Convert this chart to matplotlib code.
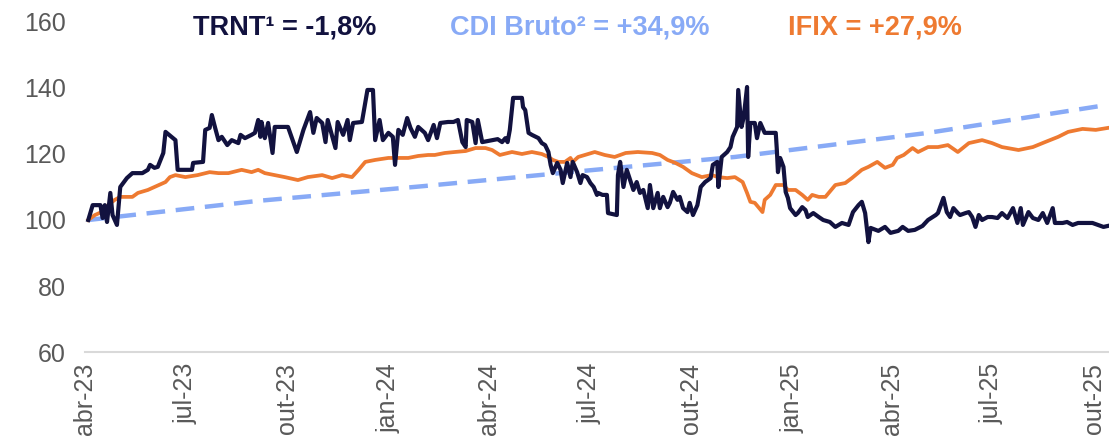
import matplotlib.pyplot as plt
import pandas as pd

plt.rcParams['font.family'] = ['Liberation Sans', 'DejaVu Sans']

START = pd.Timestamp("2023-04-01")

# days elapsed since 2023-04-01, values in base 100
trnt_days = [3, 7, 14, 16, 18, 20, 23, 25, 29, 32, 38, 43, 52, 57, 59, 63, 66, 71, 73, 82,
             84, 97, 98, 107, 109, 113, 115, 118, 121, 124, 129, 133, 139, 141, 145, 151, 154, 157, 159, 160,
             163, 166, 170, 172, 184, 192, 198, 204, 207, 210, 215, 218, 220, 227, 229, 234, 238, 240, 243, 251,
             256, 261, 263, 267, 270, 275, 279, 281, 284, 288, 292, 295, 299, 302, 308, 311, 316, 319, 322, 329,
             334, 338, 342, 345, 346, 351, 354, 356, 360, 369, 374, 378, 381, 383, 385, 388, 396, 397, 399, 402,
             405, 411, 414, 417, 420, 422, 424, 428, 431, 433, 437, 440, 442, 446, 449, 451, 455, 458, 461, 464,
             465, 469, 473, 474, 482, 483, 485, 488, 491, 494, 497, 500, 503, 506, 510, 512, 515, 519, 521, 524,
             528, 530, 533, 537, 539, 542, 546, 548, 551, 555, 558, 562, 567, 569, 573, 574, 577, 582, 585, 587,
             591, 592, 595, 597, 600, 601, 603, 607, 609, 612, 616, 626, 627, 628, 630, 633, 635, 637, 639, 644,
             646, 650, 653, 655, 660, 665, 669, 675, 680, 686, 692, 696, 701, 704, 707, 710, 712, 719, 725, 730,
             737, 741, 746, 752, 759, 764, 771, 773, 778, 781, 784, 787, 791, 793, 798, 801, 804, 807, 810, 813,
             818, 822, 827, 831, 836, 841, 845, 848, 850, 855, 859, 864, 868, 872, 877, 879, 886, 890, 895, 900,
             907, 913, 918, 923, 927]
trnt_vals = [100.0, 104.5, 104.5, 100.6, 104.5, 99.4, 108.2, 101.5, 98.5, 110.0, 112.7, 114.2, 114.2, 115.2, 116.7, 115.8, 116.1, 120.3, 126.7, 124.2,
             115.2, 115.2, 117.3, 117.6, 127.3, 127.9, 131.8, 127.9, 124.2, 125.2, 122.7, 124.2, 123.3, 125.8, 124.8, 125.8, 126.4, 130.3, 125.2, 129.7,
             124.8, 129.4, 120.3, 128.2, 128.2, 120.6, 127.3, 132.7, 126.4, 130.9, 129.4, 123.6, 130.3, 121.8, 129.7, 125.8, 130.3, 124.2, 129.4, 129.7,
             139.4, 139.4, 124.2, 130.3, 124.2, 126.4, 125.2, 116.7, 127.3, 125.8, 130.9, 127.9, 125.2, 128.2, 126.4, 124.2, 128.8, 124.8, 129.4, 129.7,
             129.7, 130.3, 123.6, 122.1, 130.3, 129.7, 123.3, 130.3, 123.6, 124.2, 124.5, 123.6, 124.8, 123.6, 127.3, 137.0, 137.0, 134.2, 133.3, 126.4,
             125.8, 124.8, 123.3, 122.7, 120.6, 116.7, 114.2, 117.3, 115.2, 111.2, 117.3, 113.0, 117.6, 114.5, 111.2, 113.6, 113.0, 111.2, 110.0, 107.6,
             108.2, 107.6, 107.6, 102.1, 101.5, 113.6, 117.6, 110.0, 115.2, 112.1, 109.1, 111.5, 108.2, 109.1, 103.6, 110.6, 103.6, 108.2, 103.6, 107.0,
             103.9, 105.2, 108.5, 106.1, 107.0, 103.6, 102.4, 105.2, 101.5, 104.5, 110.0, 111.5, 112.7, 116.7, 117.6, 110.0, 119.1, 120.6, 122.1, 125.2,
             128.2, 139.4, 128.2, 131.2, 140.3, 119.1, 129.4, 129.4, 124.8, 129.4, 126.4, 126.4, 121.2, 114.5, 118.8, 116.1, 108.5, 106.7, 103.6, 101.5,
             102.1, 103.9, 103.0, 100.9, 102.1, 100.9, 100.0, 99.4, 97.9, 99.1, 98.5, 102.4, 104.5, 105.5, 102.1, 93.3, 97.6, 96.7, 97.9, 96.1,
             96.7, 97.9, 96.7, 97.0, 98.2, 100.0, 101.5, 102.1, 106.7, 102.4, 100.9, 103.6, 102.1, 101.5, 102.1, 102.4, 100.9, 97.9, 101.5, 100.0,
             100.9, 100.9, 100.6, 102.1, 100.6, 103.6, 99.1, 103.6, 98.5, 102.4, 100.6, 100.0, 102.1, 99.1, 103.6, 99.1, 99.1, 99.4, 98.5, 99.1,
             99.1, 99.1, 98.5, 97.9, 98.2]

ifix_days = [3, 9, 15, 21, 27, 32, 43, 48, 57, 63, 73, 77, 82, 91, 102, 113, 121, 130, 142, 151,
             157, 163, 172, 181, 193, 202, 215, 224, 233, 242, 248, 254, 263, 275, 284, 293, 302, 311, 317, 326,
             335, 345, 354, 363, 369, 376, 387, 396, 405, 414, 420, 424, 429, 435, 440, 442, 447, 453, 462, 471,
             480, 490, 501, 514, 521, 528, 535, 542, 550, 559, 568, 574, 582, 589, 596, 600, 603, 607, 614, 616,
             621, 626, 633, 637, 644, 650, 655, 659, 665, 671, 680, 689, 695, 704, 710, 718, 725, 732, 736, 742,
             750, 755, 764, 773, 782, 791, 801, 813, 822, 831, 846, 859, 870, 882, 891, 904, 916, 927]
ifix_vals = [100.0, 101.5, 102.4, 104.5, 106.1, 107.0, 107.0, 108.2, 109.1, 110.0, 111.5, 113.0, 113.6, 113.0, 113.6, 114.5, 114.2, 114.2, 115.2, 114.5,
             115.2, 114.2, 113.6, 113.0, 112.1, 113.0, 113.6, 112.7, 113.6, 113.0, 115.2, 117.6, 118.2, 118.8, 118.8, 118.8, 119.4, 119.7, 119.7, 120.3,
             120.6, 120.9, 121.8, 121.8, 121.2, 119.7, 120.6, 120.0, 120.6, 120.0, 119.1, 118.2, 117.6, 117.6, 118.8, 117.6, 119.1, 119.7, 120.6, 119.7,
             119.1, 120.3, 120.6, 120.3, 119.7, 118.2, 117.3, 116.1, 114.2, 113.0, 113.6, 113.0, 112.7, 113.0, 111.5, 108.2, 105.5, 105.2, 102.4, 106.1,
             107.6, 110.6, 110.6, 109.1, 109.1, 107.6, 106.1, 107.6, 107.0, 107.0, 110.6, 111.2, 112.7, 115.2, 116.1, 117.6, 115.8, 116.7, 118.8, 119.7,
             121.8, 120.6, 122.1, 122.1, 122.7, 120.6, 123.3, 124.2, 123.3, 122.1, 121.2, 122.1, 123.6, 125.2, 126.7, 127.6, 127.3, 127.9]

cdi_days = [3, 157, 308, 462, 589, 764, 927]
cdi_vals = [100.0, 105.8, 110.3, 115.2, 119.1, 126.4, 134.9]

tick_dates = ["2023-04-01", "2023-07-01", "2023-10-01", "2024-01-01", "2024-04-01", "2024-07-01",
              "2024-10-01", "2025-01-01", "2025-04-01", "2025-07-01", "2025-10-01"]
tick_labels = ["abr-23", "jul-23", "out-23", "jan-24", "abr-24", "jul-24",
               "out-24", "jan-25", "abr-25", "jul-25", "out-25"]

labels = ["TRNT¹ = -1,8%", "CDI Bruto² = +34,9%", "IFIX = +27,9%"]

NAVY = "#12123f"
BLUE = "#88aaf6"
ORANGE = "#ee7a31"


def to_dates(days):
    return START + pd.to_timedelta(days, unit="D")


fig = plt.figure(figsize=(11.09, 4.43), dpi=100)
ax = fig.add_axes([0.0766, 0.2054, 0.9234, 0.745])

ax.plot(to_dates(cdi_days), cdi_vals, color=BLUE, lw=3.2, dashes=(4.2, 2.4), zorder=1)
ax.plot(to_dates(ifix_days), ifix_vals, color=ORANGE, lw=2.7, zorder=2)
ax.plot(to_dates(trnt_days), trnt_vals, color=NAVY, lw=3.0, zorder=3)

ax.set_ylim(60, 160)
ax.set_yticks([60, 80, 100, 120, 140, 160])
ax.set_xlim(START, START + pd.Timedelta(days=928))
ax.set_xticks(pd.to_datetime(tick_dates))
ax.set_xticklabels(tick_labels, rotation=90, ha="center", va="top")

for s in ["top", "right", "left"]:
    ax.spines[s].set_visible(False)
ax.spines["bottom"].set_color("#d9d9d9")
ax.spines["bottom"].set_linewidth(1.5)
ax.tick_params(axis="both", length=0, labelsize=18, colors="#595959")
ax.tick_params(axis="y", pad=14)
ax.tick_params(axis="x", pad=8)

for txt, col, xc in zip(labels, [NAVY, BLUE, ORANGE], [0.257, 0.523, 0.789]):
    fig.text(xc, 0.937, txt, color=col, fontsize=19.5, fontweight="bold",
             ha="center", va="center")

fig.savefig("out.png", dpi=100)
